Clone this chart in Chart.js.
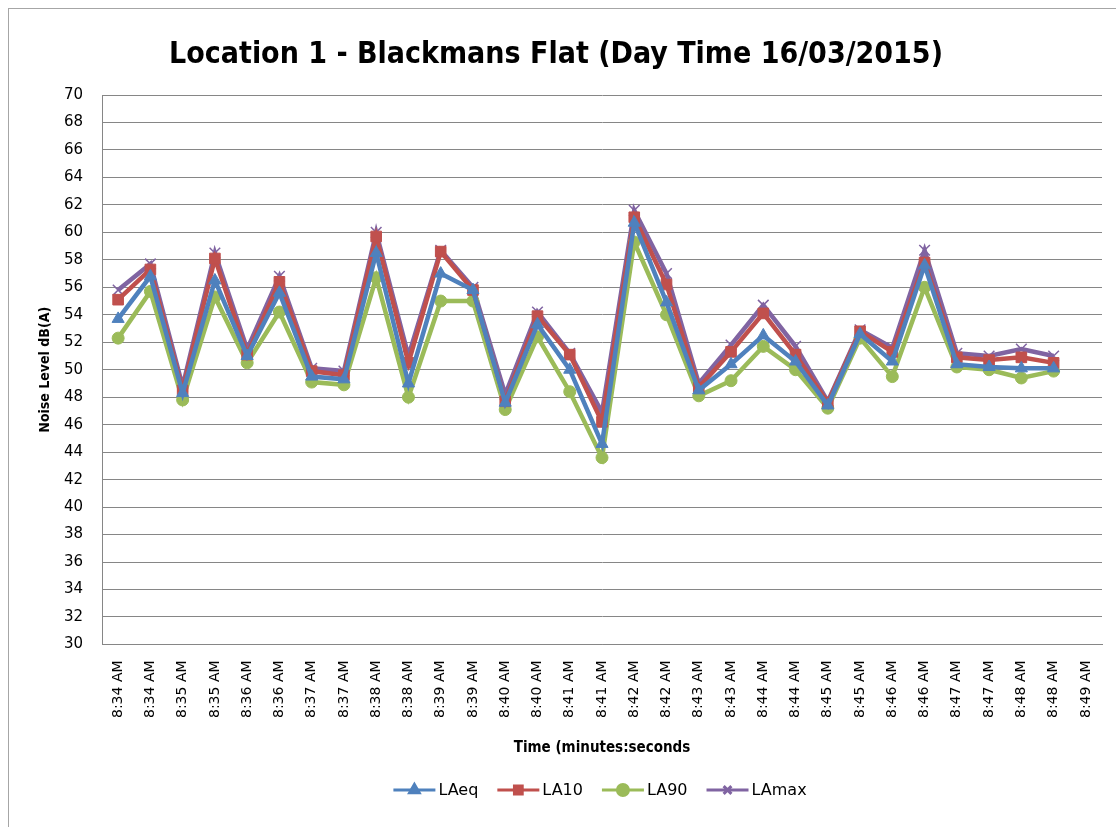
<!DOCTYPE html>
<html>
<head>
<meta charset="utf-8">
<title>Location 1 - Blackmans Flat</title>
<script src="https://cdn.jsdelivr.net/npm/chart.js@4.4.1/dist/chart.umd.min.js"></script>
<style>
  html, body { margin: 0; padding: 0; background: #fff; }
  #wrap { position: relative; width: 1116px; height: 827px; }
  #frame { position: absolute; left: 8px; top: 8px; width: 1120px; height: 830px; border: 1px solid #a6a6a6; box-sizing: border-box; }
  canvas { position: absolute; left: 0; top: 0; }
</style>
</head>
<body>
<div id="wrap">
  <div id="frame"></div>
  <canvas id="noiseChart" width="1116" height="827"></canvas>
</div>
<script>
// time labels (one reading every ~30 s)
const timeLabels = [
  '8:34 AM', '8:34 AM', '8:35 AM', '8:35 AM', '8:36 AM', '8:36 AM', '8:37 AM', '8:37 AM',
  '8:38 AM', '8:38 AM', '8:39 AM', '8:39 AM', '8:40 AM', '8:40 AM', '8:41 AM', '8:41 AM',
  '8:42 AM', '8:42 AM', '8:43 AM', '8:43 AM', '8:44 AM', '8:44 AM', '8:45 AM', '8:45 AM',
  '8:46 AM', '8:46 AM', '8:47 AM', '8:47 AM', '8:48 AM', '8:48 AM', '8:49 AM'
];

const laeq = [53.7, 56.8, 48.3, 56.5, 51.0, 55.6, 49.5, 49.3, 58.5, 49.0, 57.0, 55.8, 47.6, 53.3, 50.0, 44.6,
  60.7, 54.9, 48.5, 50.4, 52.5, 50.6, 47.4, 52.6, 50.6, 57.6, 50.4, 50.2, 50.1, 50.1, null];
const la10 = [55.1, 57.3, 48.5, 58.1, 51.1, 56.4, 49.9, 49.6, 59.7, 50.5, 58.6, 55.8, 47.7, 53.9, 51.1, 46.2,
  61.1, 56.2, 48.7, 51.3, 54.1, 51.1, 47.6, 52.8, 51.3, 57.8, 50.9, 50.7, 50.9, 50.5, null];
const la90 = [52.3, 55.7, 47.8, 55.3, 50.5, 54.2, 49.1, 48.9, 56.7, 48.0, 55.0, 55.0, 47.1, 52.4, 48.4, 43.6,
  59.3, 54.0, 48.1, 49.2, 51.7, 50.0, 47.2, 52.3, 49.5, 56.0, 50.2, 50.0, 49.4, 49.9, null];
const lamax = [55.8, 57.7, 48.8, 58.5, 51.5, 56.8, 50.1, 49.9, 60.0, 51.0, 58.7, 56.0, 48.2, 54.2, 51.2, 46.9,
  61.6, 57.0, 49.0, 51.8, 54.7, 51.7, 47.7, 52.9, 51.6, 58.7, 51.2, 51.0, 51.5, 51.0, null];

const chartTitle = 'Location 1 - Blackmans Flat (Day Time 16/03/2015)';

function series(label, data, color, marker, radius) {
  return {
    label: label,
    data: data,
    borderColor: color,
    backgroundColor: color,
    borderWidth: 4.5,
    pointStyle: marker,
    pointRadius: radius,
    pointBorderWidth: marker === 'crossRot' ? 1.5 : 1,
    pointHoverRadius: radius,
    tension: 0
  };
}

// title sits a little left of the canvas centre, so draw it by hand
const titlePlugin = {
  id: 'titlePlugin',
  afterDraw(chart) {
    const ctx = chart.ctx;
    ctx.save();
    ctx.font = 'bold 30px "DejaVu Sans Condensed", "DejaVu Sans", sans-serif';
    ctx.fillStyle = '#000';
    ctx.textAlign = 'center';
    ctx.textBaseline = 'middle';
    ctx.fillText(chartTitle, 556, 55);
    ctx.restore();
  }
};

// legend drawn as Excel does: short line with the marker in the middle
const lineLegend = {
  id: 'lineLegend',
  afterDraw(chart) {
    const ctx = chart.ctx;
    ctx.save();
    ctx.font = '16px "DejaVu Sans", sans-serif';
    ctx.textBaseline = 'middle';
    const y = 790;
    const lineW = 42, gap = 3, spacing = 19;
    const items = chart.data.datasets;
    let total = 0;
    items.forEach(ds => { total += lineW + gap + ctx.measureText(ds.label).width + spacing; });
    total -= spacing;
    let x = 600 - total / 2;
    items.forEach(ds => {
      ctx.strokeStyle = ds.borderColor;
      ctx.lineWidth = 3;
      ctx.beginPath();
      ctx.moveTo(x, y);
      ctx.lineTo(x + lineW, y);
      ctx.stroke();
      Chart.helpers.drawPoint(ctx, {
        pointStyle: ds.pointStyle, radius: 5.5, borderWidth: ds.pointBorderWidth, rotation: 0
      }, x + lineW / 2, y);
      ctx.fillStyle = ds.borderColor;
      ctx.fill();
      ctx.fillStyle = '#000';
      ctx.fillText(ds.label, x + lineW + gap, y + 1);
      x += lineW + gap + ctx.measureText(ds.label).width + spacing;
    });
    ctx.restore();
  }
};

const noiseCtx = document.getElementById('noiseChart').getContext('2d');
const noiseChart = new Chart(noiseCtx, {
  type: 'line',
  data: {
    labels: timeLabels,
    datasets: [
      series('LAeq', laeq, '#4f81bd', 'triangle', 7),
      series('LA10', la10, '#c0504d', 'rect', 7.5),
      series('LA90', la90, '#9bbb59', 'circle', 6),
      series('LAmax', lamax, '#8064a2', 'crossRot', 7.5)
    ]
  },
  options: {
    responsive: false,
    animation: false,
    layout: { padding: { left: 37, right: 14, top: 95, bottom: 70 } },
    plugins: {
      title: { display: false },
      legend: { display: false },
      tooltip: { enabled: false }
    },
    scales: {
      x: {
        offset: true,
        grid: { display: false },
        border: { color: '#868686', width: 1 },
        ticks: {
          color: '#000',
          font: { family: '"DejaVu Sans", Verdana, sans-serif', size: 14 },
          minRotation: 90,
          maxRotation: 90,
          autoSkip: false,
          padding: 8
        },
        title: {
          display: true,
          text: 'Time (minutes:seconds',
          color: '#000',
          font: { family: '"DejaVu Sans Condensed", "DejaVu Sans", sans-serif', size: 15, weight: 'bold' },
          padding: { top: 13, bottom: 0 }
        }
      },
      y: {
        min: 30,
        max: 70,
        afterFit(scale) { scale.width = 65; },
        grid: { color: '#868686', lineWidth: 1, drawTicks: false },
        border: { color: '#868686', width: 1 },
        ticks: { stepSize: 2, color: '#000', font: { family: '"DejaVu Sans", Verdana, sans-serif', size: 15 }, padding: 19 },
        title: {
          display: true,
          text: 'Noise Level dB(A)',
          color: '#000',
          font: { family: '"DejaVu Sans Condensed", "DejaVu Sans", sans-serif', size: 14, weight: 'bold' },
          padding: { top: 0, bottom: 0 }
        }
      }
    }
  },
  plugins: [titlePlugin, lineLegend]
});
</script>
</body>
</html>
